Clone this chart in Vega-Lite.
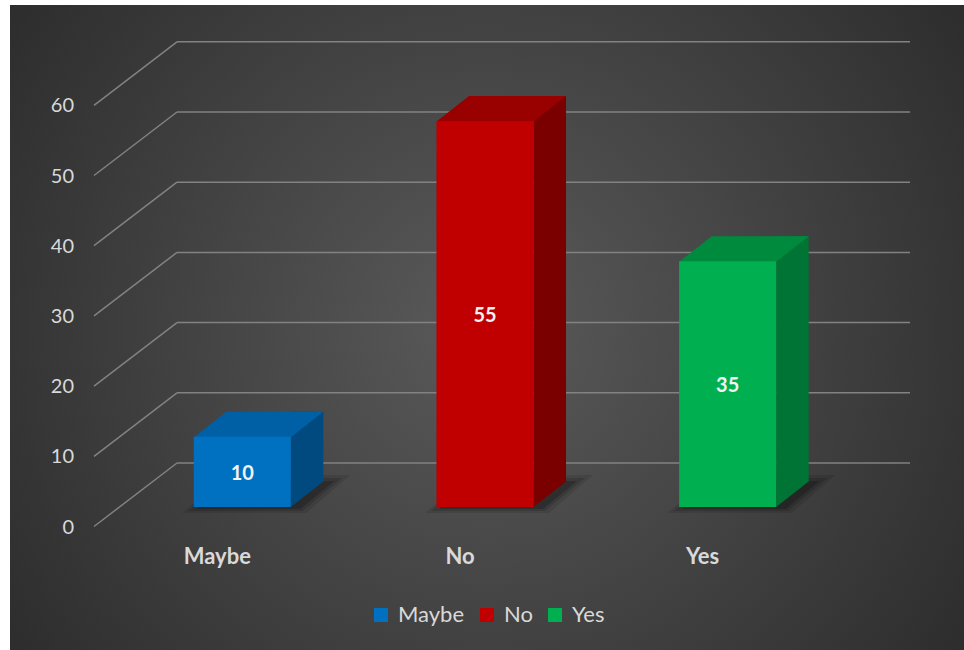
{
  "$schema": "https://vega.github.io/schema/vega-lite/v6.json",
  "width": 954,
  "height": 645,
  "autosize": "none",
  "padding": {"left": 10, "top": 5, "right": 0, "bottom": 0},
  "background": "#ffffff",
  "view": {
    "stroke": null,
    "fill": {
      "gradient": "radial",
      "x1": 0.5, "y1": 0.5, "r1": 0,
      "x2": 0.5, "y2": 0.5, "r2": 0.75,
      "stops": [
        {"offset": 0, "color": "#5a5a5a"},
        {"offset": 1, "color": "#222222"}
      ]
    }
  },
  "datasets": {
    "bars": [
      {"answer": "Maybe", "count": 10},
      {"answer": "No", "count": 55},
      {"answer": "Yes", "count": 35}
    ],
    "ticks": [
      {"tick": 0}, {"tick": 10}, {"tick": 20}, {"tick": 30},
      {"tick": 40}, {"tick": 50}, {"tick": 60}
    ]
  },
  "resolve": {"scale": {"y": "independent", "color": "independent"}},
  "layer": [
    {
      "data": {"name": "ticks"},
      "mark": {"type": "rule", "color": "#828282", "strokeWidth": 1.5, "xOffset": -1, "x2Offset": 82, "yOffset": 19.5, "y2Offset": -44},
      "encoding": {
        "x": {"datum": "Maybe", "type": "nominal", "bandPosition": 0,
              "scale": {"type": "band", "domain": ["Maybe", "No", "Yes"], "range": [85, 813], "paddingInner": 0, "paddingOuter": 0},
              "axis": null},
        "x2": {"datum": "Maybe", "bandPosition": 0},
        "y": {"field": "tick", "type": "quantitative", "scale": {"domain": [0, 60], "range": [502, 80.8], "nice": false, "zero": false}, "axis": null},
        "y2": {"field": "tick"}
      }
    },
    {
      "data": {"name": "ticks"},
      "mark": {"type": "rule", "color": "#828282", "strokeWidth": 1.5, "xOffset": 82, "x2Offset": 87, "yOffset": -44},
      "encoding": {
        "x": {"datum": "Maybe", "type": "nominal", "bandPosition": 0},
        "x2": {"datum": "Yes", "bandPosition": 1},
        "y": {"field": "tick", "type": "quantitative", "scale": {"domain": [0, 60], "range": [502, 80.8], "nice": false, "zero": false}, "axis": null}
      }
    },
    {
      "data": {"name": "ticks"},
      "mark": {"type": "text", "align": "right", "baseline": "middle", "font": "Lato", "fontSize": 20, "color": "#D9D9D9", "xOffset": -21, "yOffset": 20.5},
      "encoding": {
        "x": {"datum": "Maybe", "type": "nominal", "bandPosition": 0},
        "y": {"field": "tick", "type": "quantitative", "scale": {"domain": [0, 60], "range": [502, 80.8], "nice": false, "zero": false}, "axis": null},
        "text": {"field": "tick", "type": "quantitative"}
      }
    },
    {
      "data": {"name": "bars"},
      "mark": {"type": "point", "filled": true, "opacity": 0.1, "strokeWidth": 0, "size": 4, "xOffset": 26,
               "shape": "M-60,6 L64,6 L108,-32 L-16,-32 Z", "color": "#000000"},
      "encoding": {
        "x": {"field": "answer", "type": "nominal"},
        "y": {"datum": 0, "type": "quantitative", "scale": {"domain": [0, 60], "range": [502, 80.8], "nice": false, "zero": false}, "axis": null}
      }
    },
    {
      "data": {"name": "bars"},
      "mark": {"type": "point", "filled": true, "opacity": 0.14, "strokeWidth": 0, "size": 4, "xOffset": 26,
               "shape": "M-54,4 L60,4 L100,-29 L-14,-29 Z", "color": "#000000"},
      "encoding": {
        "x": {"field": "answer", "type": "nominal"},
        "y": {"datum": 0, "type": "quantitative", "scale": {"domain": [0, 60], "range": [502, 80.8], "nice": false, "zero": false}, "axis": null}
      }
    },
    {
      "data": {"name": "bars"},
      "mark": {"type": "point", "filled": true, "opacity": 0.2, "strokeWidth": 0, "size": 4, "xOffset": 26,
               "shape": "M-46,2 L58,2 L92,-26 L-12,-26 Z", "color": "#000000"},
      "encoding": {
        "x": {"field": "answer", "type": "nominal"},
        "y": {"datum": 0, "type": "quantitative", "scale": {"domain": [0, 60], "range": [502, 80.8], "nice": false, "zero": false}, "axis": null}
      }
    },
    {
      "data": {"name": "bars"},
      "mark": {"type": "bar", "width": 32.5, "xOffset": 90.75, "yOffset": -25, "y2Offset": -25},
      "encoding": {
        "x": {"field": "answer", "type": "nominal"},
        "y": {"field": "count", "type": "quantitative", "scale": {"domain": [0, 60], "range": [502, 80.8], "nice": false, "zero": false}, "axis": null},
        "y2": {"datum": 0},
        "color": {"field": "answer", "type": "nominal", "scale": {"domain": ["Maybe", "No", "Yes"], "range": ["#004A80", "#7A0000", "#007434"]}, "legend": null}
      }
    },
    {
      "data": {"name": "bars"},
      "mark": {"type": "point", "filled": true, "opacity": 1, "strokeWidth": 0, "size": 4, "xOffset": 26,
               "shape": "M48.5,-25.6 L48.5,0 L81,-25.6 Z"},
      "encoding": {
        "x": {"field": "answer", "type": "nominal"},
        "y": {"datum": 0, "type": "quantitative", "scale": {"domain": [0, 60], "range": [502, 80.8], "nice": false, "zero": false}, "axis": null},
        "color": {"field": "answer", "type": "nominal", "scale": {"domain": ["Maybe", "No", "Yes"], "range": ["#004A80", "#7A0000", "#007434"]}, "legend": null}
      }
    },
    {
      "data": {"name": "bars"},
      "mark": {"type": "point", "filled": true, "opacity": 1, "strokeWidth": 0, "size": 4, "xOffset": 26,
               "shape": "M-48.5,0.5 L48.5,0.5 L81,-25 L-16,-25 Z"},
      "encoding": {
        "x": {"field": "answer", "type": "nominal"},
        "y": {"field": "count", "type": "quantitative", "scale": {"domain": [0, 60], "range": [502, 80.8], "nice": false, "zero": false}, "axis": null},
        "color": {"field": "answer", "type": "nominal", "scale": {"domain": ["Maybe", "No", "Yes"], "range": ["#0060A6", "#990000", "#008A3E"]}, "legend": null}
      }
    },
    {
      "data": {"name": "bars"},
      "mark": {"type": "bar", "width": {"band": 0.4}, "xOffset": 26},
      "encoding": {
        "x": {"field": "answer", "type": "nominal"},
        "y": {"field": "count", "type": "quantitative", "scale": {"domain": [0, 60], "range": [502, 80.8], "nice": false, "zero": false}, "axis": null},
        "color": {"field": "answer", "type": "nominal",
                  "scale": {"domain": ["Maybe", "No", "Yes"], "range": ["#0070C0", "#C00000", "#00B050"]},
                  "legend": {"orient": "none", "direction": "horizontal", "legendX": 360, "legendY": 599, "title": null,
                             "symbolType": "square", "symbolSize": 196, "symbolStrokeWidth": 0, "symbolOpacity": 1,
                             "labelFont": "Lato", "labelFontSize": 22, "labelColor": "#D9D9D9", "labelOffset": 6, "columnPadding": 11}}
      }
    },
    {
      "data": {"name": "bars"},
      "mark": {"type": "text", "font": "Lato", "fontSize": 20, "fontWeight": "bold", "color": "#F2F2F2", "baseline": "middle", "align": "center", "xOffset": 26, "yOffset": 2},
      "encoding": {
        "x": {"field": "answer", "type": "nominal"},
        "y": {"field": "count", "type": "quantitative", "scale": {"domain": [0, 120], "range": [502, 80.8], "nice": false, "zero": false}, "axis": null},
        "text": {"field": "count", "type": "quantitative"}
      }
    },
    {
      "data": {"name": "bars"},
      "mark": {"type": "text", "font": "Lato", "fontSize": 22, "fontWeight": "bold", "color": "#D9D9D9", "baseline": "middle", "align": "center", "xOffset": 1, "yOffset": 50},
      "encoding": {
        "x": {"field": "answer", "type": "nominal"},
        "y": {"datum": 0, "type": "quantitative", "scale": {"domain": [0, 60], "range": [502, 80.8], "nice": false, "zero": false}, "axis": null},
        "text": {"field": "answer", "type": "nominal"}
      }
    }
  ]
}
